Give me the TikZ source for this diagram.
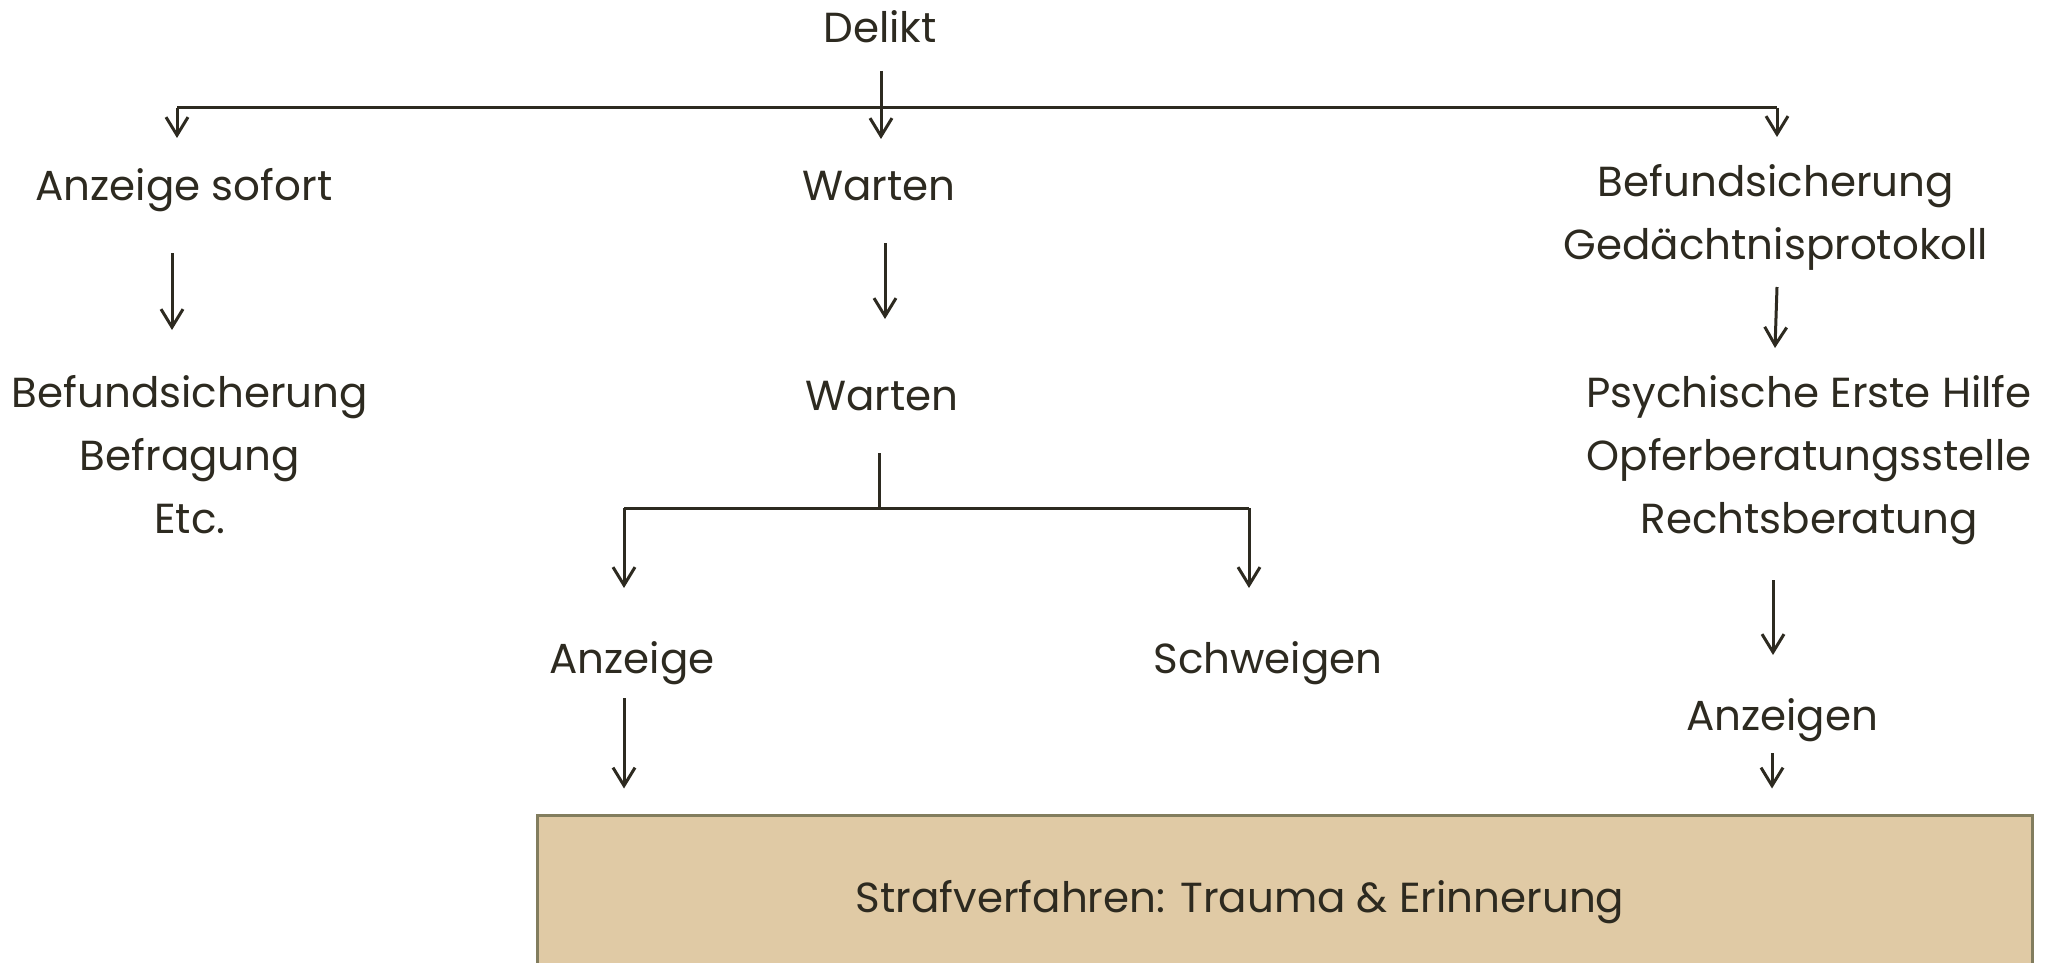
\documentclass[tikz,border=0pt]{standalone}
\usepackage{fontspec}
\setmainfont{Poppins}
\usetikzlibrary{arrows.meta}
\definecolor{ink}{HTML}{2D2A20}
\definecolor{sand}{HTML}{E0CAA5}
\definecolor{rim}{HTML}{827D5E}
\begin{document}
\begin{tikzpicture}[x=1pt,y=-1pt,
  lbl/.style={inner sep=0pt, text=ink, font=\fontsize{42}{63}\selectfont, align=center, anchor=base},
  ln/.style={draw=ink, line width=3pt},
  arr/.style={ln, -{Straight Barb[length=18pt,width=22pt]}},
  procbox/.style={draw=rim, line width=3pt, fill=sand, minimum width=1495pt, minimum height=180pt, inner sep=0pt}]
\useasboundingbox (0,0) rectangle (2063,963);

% final stage box
\node[procbox] (proc) at (1284.5,905) {};
\node[lbl] (proclbl) at (1240,912) {Strafverfahren: Trauma \& Erinnerung};

% labels (multi-line labels are anchored at the baseline of their last line)
\node[lbl] (delikt) at (880,43) {Delikt};
\node[lbl] (sofort) at (184,200) {Anzeige sofort};
\node[lbl] (wait1) at (879,200) {Warten};
\node[lbl] (wait2) at (882,410) {Warten};
\node[lbl] (befL) at (190,533) {Befundsicherung\\Befragung\\Etc.};
\node[lbl] (befR) at (1776,259) {Befundsicherung\\Gedächtnisprotokoll};
\node[lbl] (help) at (1809,533) {Psychische Erste Hilfe\\Opferberatungsstelle\\Rechtsberatung};
\node[lbl] (anz) at (632,673) {Anzeige};
\node[lbl] (schw) at (1268,673) {Schweigen};
\node[lbl] (anzn) at (1782,730) {Anzeigen};

% top distribution bar
\coordinate (busL) at (177,108);
\coordinate (busR) at (1777,108);
\coordinate (tipL) at ([yshift=62pt]sofort.base);
\coordinate (tipR) at ([yshift=122pt]befR.base);
\draw[ln] (busL) -- (busR);
\draw[arr] (busL) -- (busL |- tipL);
\draw[arr] (busR) -- (busR |- tipR);
\draw[arr] ([xshift=1pt,yshift=-28pt]delikt.base) -- ([xshift=2pt,yshift=61pt]wait1.base);

% left column
\draw[arr] ([xshift=-12pt,yshift=-53pt]sofort.base) -- ([xshift=-18pt,yshift=203pt]befL.base);

% middle column
\draw[arr] ([xshift=6pt,yshift=-43pt]wait1.base) -- ([xshift=3pt,yshift=91pt]wait2.base);
\coordinate (fork) at (879,508);
\coordinate (forkL) at (624,508);
\coordinate (forkR) at (1249,508);
\draw[ln] ([xshift=-3pt,yshift=-43pt]wait2.base) -- (fork);
\draw[ln] (forkL) -- (forkR);
\draw[arr] (forkL) -- ([xshift=-8pt,yshift=85pt]anz.base);
\draw[arr] (forkR) -- ([xshift=-19pt,yshift=85pt]schw.base);
\coordinate (anzOut) at ([xshift=-8pt,yshift=-25pt]anz.base);
\draw[arr, shorten >=25pt] (anzOut) -- (anzOut |- proc.north);

% right column
\draw[arr] ([xshift=1pt,yshift=-28pt]befR.base) -- ([xshift=-34pt,yshift=185pt]help.base);
\draw[arr] ([xshift=-36pt,yshift=-47pt]help.base) -- ([xshift=-9pt,yshift=75pt]anzn.base);
\coordinate (anznOut) at ([xshift=-10pt,yshift=-23pt]anzn.base);
\draw[arr, shorten >=25pt] (anznOut) -- (anznOut |- proc.north);
\end{tikzpicture}
\end{document}
